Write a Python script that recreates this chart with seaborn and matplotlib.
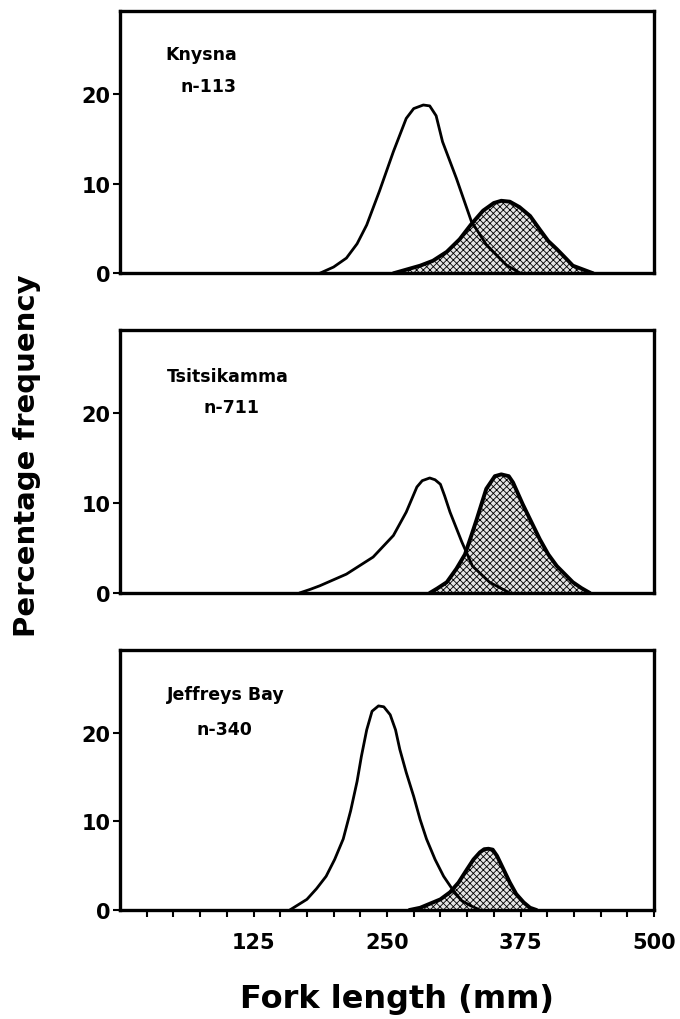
import matplotlib
matplotlib.use("Agg")
import matplotlib.pyplot as plt
import seaborn as sns
import pandas as pd

# ---------------- data ----------------
sites = ["Knysna", "Tsitsikamma", "Jeffreys Bay"]
sample_sizes = ["n-113", "n-711", "n-340"]

# Knysna
knysna_open_x = [187, 200, 212, 222, 231, 243, 256, 268, 275, 284, 290, 296, 302, 315, 329, 343, 362, 375]
knysna_open_y = [0, 0.7, 1.7, 3.3, 5.4, 9.2, 13.6, 17.3, 18.4, 18.8, 18.7, 17.6, 14.7, 10.6, 5.8, 3.2, 0.9, 0]
knysna_shaded_x = [256, 281, 293, 306, 318, 329, 340, 350, 357, 365, 374, 384, 393, 401, 409, 418, 424, 443]
knysna_shaded_y = [0, 0.85, 1.4, 2.4, 3.8, 5.5, 7.0, 7.85, 8.1, 8.0, 7.4, 6.4, 4.9, 3.6, 2.7, 1.6, 0.85, 0]

# Tsitsikamma
tsitsi_open_x = [168, 178, 187, 212, 237, 256, 268, 278, 283, 290, 295, 300, 304, 309, 320, 330, 346, 365]
tsitsi_open_y = [0, 0.4, 0.8, 2.1, 4.0, 6.4, 9.0, 11.8, 12.5, 12.8, 12.6, 12.1, 10.8, 9.0, 5.7, 3.0, 1.2, 0]
tsitsi_shaded_x = [290, 297, 306, 315, 323, 329, 334, 339, 343, 351, 357, 364, 368, 377, 386, 393, 401, 409, 424, 432, 440]
tsitsi_shaded_y = [0, 0.5, 1.2, 2.7, 4.3, 6.4, 8.2, 10.1, 11.6, 13.0, 13.2, 13.0, 12.3, 9.9, 7.7, 6.0, 4.3, 3.0, 1.2, 0.55, 0]

# Jeffreys Bay
jeff_open_x = [159, 175, 184, 193, 201, 209, 216, 222, 226, 231, 236, 242, 247, 253, 258, 262, 268, 275, 281, 287, 295, 303, 312, 320, 328, 337]
jeff_open_y = [0, 1.2, 2.4, 3.8, 5.7, 8.0, 11.2, 14.5, 17.3, 20.3, 22.4, 23.0, 22.9, 22.0, 20.3, 18.1, 15.5, 12.8, 10.2, 8.0, 5.7, 3.8, 2.2, 1.05, 0.5, 0]
jeff_shaded_x = [271, 281, 290, 300, 309, 317, 325, 331, 337, 341, 345, 349, 353, 359, 365, 371, 378, 384, 390]
jeff_shaded_y = [0, 0.25, 0.7, 1.2, 2.0, 3.1, 4.6, 5.7, 6.5, 6.85, 6.9, 6.8, 6.1, 4.6, 3.1, 1.8, 0.85, 0.25, 0]

open_curves = [(knysna_open_x, knysna_open_y), (tsitsi_open_x, tsitsi_open_y),
               (jeff_open_x, jeff_open_y)]
shaded_curves = [(knysna_shaded_x, knysna_shaded_y), (tsitsi_shaded_x, tsitsi_shaded_y),
                 (jeff_shaded_x, jeff_shaded_y)]

y_ticks = [0, 10, 20]
x_ticks = list(range(25, 501, 25))
x_tick_labels = [125, 250, 375, 500]

# ---------------- figure ----------------
sns.set_theme(style="white")
plt.rcParams["font.family"] = ["DejaVu Sans"]
plt.rcParams["hatch.linewidth"] = 0.6
for k in ["text.color", "axes.labelcolor", "xtick.color", "ytick.color", "axes.edgecolor"]:
    plt.rcParams[k] = "black"

fig = plt.figure(figsize=(6.8, 10.2), dpi=100)

W, H = 680.0, 1020.0
left_px, right_px = 120, 654
panel_px = [(12, 274.3), (330.7, 594), (651, 911)]
label_pos = [((0.153, 0.817), (0.165, 0.695)),
             ((0.201, 0.805), (0.209, 0.687)),
             ((0.199, 0.810), (0.195, 0.677))]

for i, (top, bot) in enumerate(panel_px):
    ax = fig.add_axes([left_px / W, 1 - bot / H, (right_px - left_px) / W, (bot - top) / H])
    ax.set_facecolor("white")

    sx, sy = shaded_curves[i]
    ox, oy = open_curves[i]
    ax.fill_between(sx, 0, sy, facecolor="#e4e4e4", edgecolor="black",
                    hatch="xxxxx", linewidth=0, zorder=1)
    sdf = pd.DataFrame({"x": sx, "y": sy})
    odf = pd.DataFrame({"x": ox, "y": oy})
    sns.lineplot(data=sdf, x="x", y="y", ax=ax, color="black", lw=2.8,
                 sort=False, estimator=None, zorder=3)
    sns.lineplot(data=odf, x="x", y="y", ax=ax, color="black", lw=2.0,
                 sort=False, estimator=None, zorder=4)

    ax.set_xlim(0, 500)
    ax.set_ylim(0, 29.3)
    ax.set_xlabel("")
    ax.set_ylabel("")
    for sp in ax.spines.values():
        sp.set_visible(True)
        sp.set_linewidth(2.4)
        sp.set_color("black")

    ax.set_yticks(y_ticks)
    ax.set_yticklabels([str(t) for t in y_ticks], fontsize=15, fontweight="bold")
    ax.tick_params(axis="y", direction="out", length=5, width=1.5, pad=2,
                   left=True, colors="black")

    if i < 2:
        ax.set_xticks([])
    else:
        ax.set_xticks(x_ticks)
        ax.set_xticklabels([str(t) if t in x_tick_labels else "" for t in x_ticks],
                           fontsize=15, fontweight="bold")
        ax.tick_params(axis="x", direction="out", length=5, width=1.5,
                       pad=11, bottom=True, colors="black")

    (nx, ny), (sx2, sy2) = label_pos[i]
    ax.text(nx, ny, sites[i], transform=ax.transAxes, ha="center", va="baseline",
            fontsize=12.5, fontweight="bold")
    ax.text(sx2, sy2, sample_sizes[i], transform=ax.transAxes, ha="center", va="baseline",
            fontsize=12.5, fontweight="bold")

fig.text(27 / W, 1 - 456 / H, "Percentage frequency", rotation=90, ha="center",
         va="center", fontsize=21, fontweight="bold")
fig.text(397 / W, 1 - 1000 / H, "Fork length (mm)", ha="center", va="center",
         fontsize=23, fontweight="bold")

fig.savefig("out.png", dpi=100, facecolor="white")
